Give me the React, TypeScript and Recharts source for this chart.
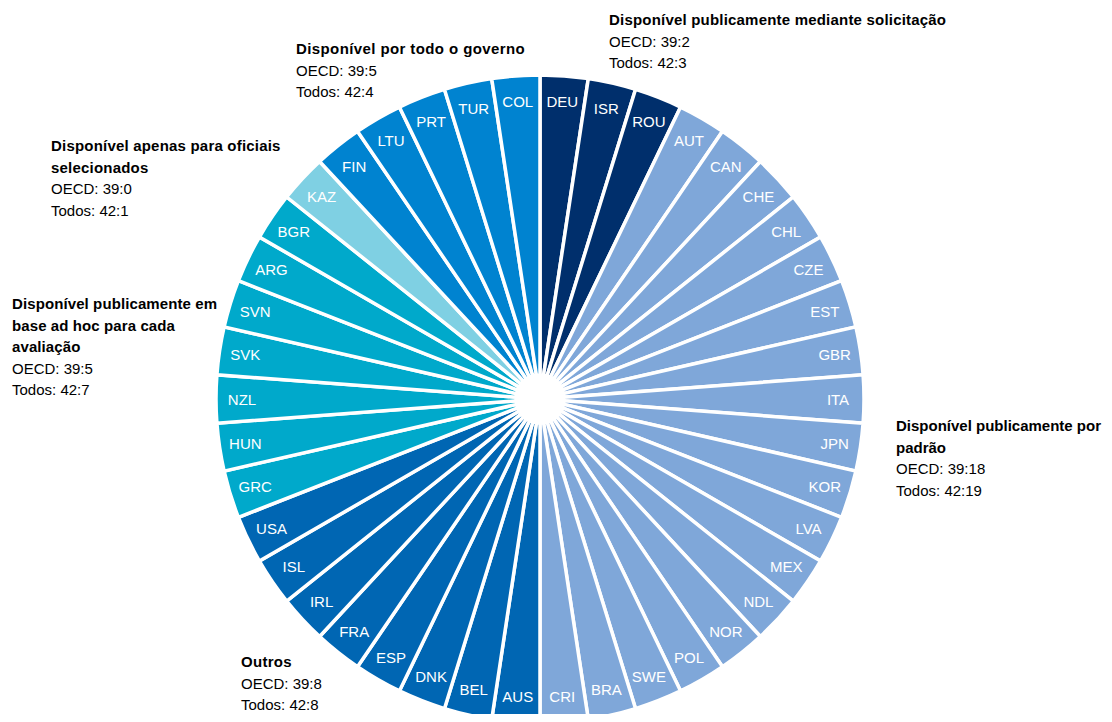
import React from "react";
import { PieChart, Pie, Cell } from "recharts";

// clockwise from 12 o'clock
const countries = [
  "DEU", "ISR", "ROU",
  "AUT", "CAN", "CHE", "CHL", "CZE", "EST", "GBR", "ITA", "JPN", "KOR",
  "LVA", "MEX", "NDL", "NOR", "POL", "SWE", "BRA", "CRI",
  "AUS", "BEL", "DNK", "ESP", "FRA", "IRL", "ISL", "USA",
  "GRC", "HUN", "NZL", "SVK", "SVN", "ARG", "BGR",
  "KAZ",
  "FIN", "LTU", "PRT", "TUR", "COL",
];

const groups = [
  "request", "request", "request",
  "default", "default", "default", "default", "default", "default", "default", "default", "default", "default",
  "default", "default", "default", "default", "default", "default", "default", "default",
  "other", "other", "other", "other", "other", "other", "other", "other",
  "adhoc", "adhoc", "adhoc", "adhoc", "adhoc", "adhoc", "adhoc",
  "selected",
  "government", "government", "government", "government", "government",
];

const shares = countries.map(() => 1);

const GROUP_COLORS: Record<string, string> = {
  request: "#002F6C",
  default: "#7FA7D9",
  other: "#0066B3",
  adhoc: "#00A9CB",
  selected: "#7FD0E3",
  government: "#0083D0",
};

interface Note {
  title: string[];
  oecd: string;
  all: string;
  x: number;
  y: number;
  spacing: number;
}

const notes: Note[] = [
  { title: ["Disponível publicamente mediante solicitação"], oecd: "39:2", all: "42:3", x: 609, y: 9, spacing: 0.2 },
  { title: ["Disponível por todo o governo"], oecd: "39:5", all: "42:4", x: 296, y: 38, spacing: 0.4 },
  { title: ["Disponível apenas para oficiais", "selecionados"], oecd: "39:0", all: "42:1", x: 51, y: 135, spacing: 0.2 },
  { title: ["Disponível publicamente em", "base ad hoc para cada", "avaliação"], oecd: "39:5", all: "42:7", x: 12, y: 293, spacing: 0.1 },
  { title: ["Disponível publicamente por", "padrão"], oecd: "39:18", all: "42:19", x: 896, y: 415, spacing: 0 },
  { title: ["Outros"], oecd: "39:8", all: "42:8", x: 241, y: 651, spacing: 0.3 },
];

const data = countries.map((c, i) => ({ name: c, value: shares[i], group: groups[i] }));

const RAD = Math.PI / 180;

const renderLabel = (props: any) => {
  const { cx, cy, midAngle, name } = props;
  const r = 298;
  const x = cx + r * Math.cos(-midAngle * RAD);
  const y = cy + r * Math.sin(-midAngle * RAD);
  return (
    <text
      x={x}
      y={y}
      fill="#fff"
      textAnchor="middle"
      dominantBaseline="central"
      fontSize={15}
      fontFamily="'Liberation Sans', Arial, sans-serif"
    >
      {name}
    </text>
  );
};

export default function App() {
  return (
    <div
      style={{
        position: "relative",
        width: 1112,
        height: 722,
        margin: -8,
        background: "#fff",
        fontFamily: "'Liberation Sans', Arial, sans-serif",
      }}
    >
      <PieChart width={1112} height={722} margin={{ top: 0, right: 0, bottom: 0, left: 0 }}>
        <Pie
          data={data}
          dataKey="value"
          nameKey="name"
          cx={540}
          cy={399}
          innerRadius={24}
          outerRadius={324}
          startAngle={90}
          endAngle={-270}
          stroke="#fff"
          strokeWidth={3.5}
          label={renderLabel}
          labelLine={false}
          isAnimationActive={false}
        >
          {data.map((d) => (
            <Cell key={d.name} fill={GROUP_COLORS[d.group]} />
          ))}
        </Pie>
      </PieChart>
      {notes.map((n) => (
        <div
          key={n.title[0]}
          style={{
            position: "absolute",
            left: n.x,
            top: n.y,
            fontSize: 15,
            lineHeight: "21.5px",
            color: "#000",
            whiteSpace: "nowrap",
          }}
        >
          {n.title.map((t) => (
            <div key={t} style={{ fontWeight: "bold", letterSpacing: n.spacing }}>
              {t}
            </div>
          ))}
          <div>OECD: {n.oecd}</div>
          <div>Todos: {n.all}</div>
        </div>
      ))}
    </div>
  );
}
